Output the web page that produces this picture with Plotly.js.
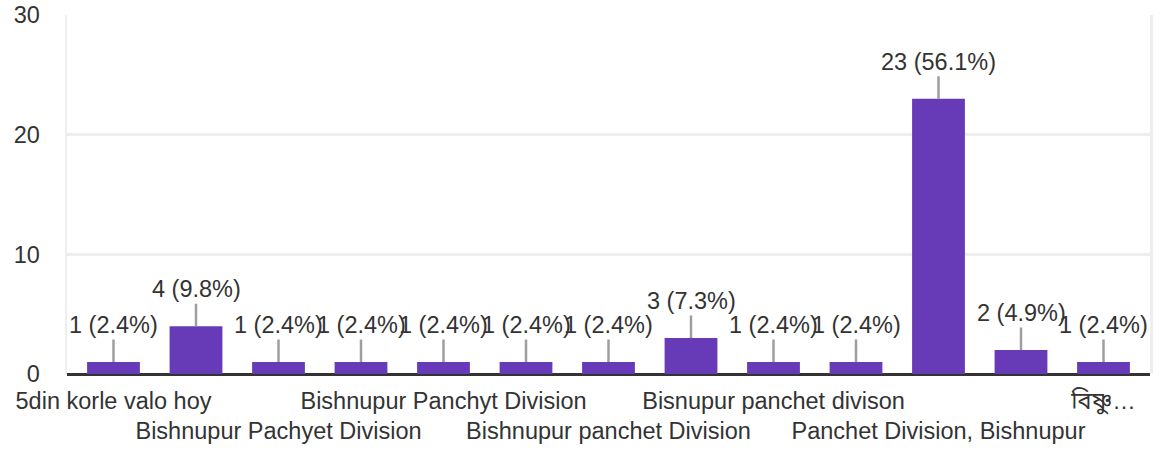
<!DOCTYPE html>
<html>
<head>
<meta charset="utf-8">
<script src="https://cdn.plot.ly/plotly-3.0.1.min.js"></script>
<style>
  html, body { margin: 0; padding: 0; background: #ffffff; }
  #chart { width: 1160px; height: 454px; }
</style>
</head>
<body>
<div id="chart"></div>
<script>
// Category names (alphabetical order, as in the form summary)
const categories = [
  "5din korle valo hoy",
  "Bishnupur",
  "Bishnupur Pachyet Division",
  "Bishnupur Panchet Division",
  "Bishnupur Panchyt Division",
  "Bishnupur panchat division",
  "Bishnupur panchet Division",
  "Bishnupur, Panchet Division",
  "Bisnupur panchet divison",
  "Panchet Division",
  "Panchet Division, Bishnupur",
  "Panchet division",
  "বিষ্ণুপুর পাঞ্চেত ডিভিশন"
];
// Response counts
const counts = [1, 4, 1, 1, 1, 1, 1, 3, 1, 1, 23, 2, 1];
// Tick labels as displayed (alternate labels shown, in two staggered rows)
const tickLabels = [
  "5din korle valo hoy",
  "",
  "<br>Bishnupur Pachyet Division",
  "",
  "Bishnupur Panchyt Division",
  "",
  "<br>Bishnupur panchet Division",
  "",
  "Bisnupur panchet divison",
  "",
  "<br>Panchet Division, Bishnupur",
  "",
  "বিষ্ণু…"
];
const yTicks = [0, 10, 20, 30];

const total = counts.reduce((a, b) => a + b, 0);
const labelTexts = counts.map(c => c + " (" + (100 * c / total).toFixed(1) + "%)");

const FONT = '"Liberation Sans", Arial, "Noto Sans Bengali", "Noto Sans", sans-serif';
const TXT = '#333333';
const FS = 23.5;

const trace = {
  type: 'bar',
  x: categories,
  y: counts,
  marker: { color: '#673ab7' },
  hoverinfo: 'none'
};

const annotations = categories.map((c, i) => ({
  x: c,
  y: counts[i],
  xref: 'x',
  yref: 'y',
  text: labelTexts[i],
  showarrow: true,
  arrowhead: 0,
  arrowwidth: 2.5,
  arrowcolor: '#9e9e9e',
  ax: 0,
  ay: -37,
  font: { family: FONT, size: FS, color: TXT },
  bgcolor: 'rgba(0,0,0,0)'
}));

const layout = {
  width: 1160,
  height: 454,
  margin: { l: 67, r: 10, t: 15, b: 80 },
  paper_bgcolor: '#ffffff',
  plot_bgcolor: '#ffffff',
  showlegend: false,
  bargap: 0.36,
  font: { family: FONT, size: FS, color: TXT },
  xaxis: {
    type: 'category',
    tickmode: 'array',
    tickvals: categories,
    ticktext: tickLabels,
    tickangle: 0,
    showgrid: false,
    zeroline: false,
    showline: false,
    ticks: '',
    ticklabelstandoff: 10,
    tickfont: { family: FONT, size: FS, color: TXT },
    automargin: false
  },
  yaxis: {
    range: [0, 30],
    tickmode: 'array',
    tickvals: yTicks,
    ticktext: yTicks.map(String),
    showgrid: true,
    gridcolor: '#eeeeee',
    gridwidth: 2.5,
    zeroline: true,
    zerolinecolor: '#333333',
    zerolinewidth: 3,
    showline: true,
    mirror: true,
    linecolor: '#eeeeee',
    linewidth: 2.5,
    ticks: '',
    ticklabelstandoff: 20,
    tickfont: { family: FONT, size: FS, color: TXT },
    automargin: false
  },
  annotations: annotations
};

Plotly.newPlot('chart', [trace], layout, { displayModeBar: false, staticPlot: true });
</script>
</body>
</html>
